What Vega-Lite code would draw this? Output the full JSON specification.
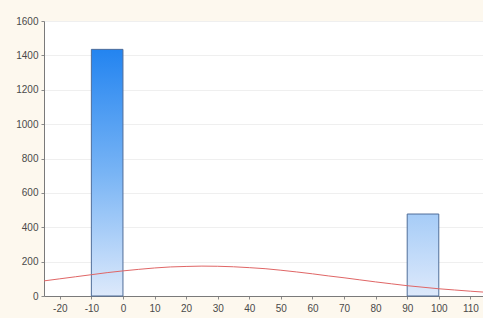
{
  "$schema": "https://vega.github.io/schema/vega-lite/v6.json",
  "autosize": "none",
  "width": 439,
  "height": 275,
  "padding": {"left": 44, "top": 21, "right": 0, "bottom": 22},
  "background": "#fdf8ee",
  "config": {
    "view": {"fill": "white", "stroke": null},
    "axis": {"labelFont": "Liberation Sans", "labelFontSize": 10, "labelColor": "#4a4a4a", "domainColor": "#7a7a7a", "tickColor": "#8a8a8a", "tickSize": 3, "title": null, "labelOverlap": false, "labelFlush": false, "format": "d", "labelExpr": "replace(datum.label, '\u2212', '-')"}
  },
  "datasets": {
    "bars": [
      {"bin_start": -10, "bin_end": 0, "count": 1435},
      {"bin_start": 90, "bin_end": 100, "count": 477}
    ],
    "curve": [
      {"x": -25, "y": 88}, {"x": -20, "y": 100}, {"x": -15, "y": 112}, {"x": -10, "y": 124},
      {"x": -5, "y": 136}, {"x": 0, "y": 146}, {"x": 5, "y": 155}, {"x": 10, "y": 163},
      {"x": 15, "y": 169}, {"x": 20, "y": 172}, {"x": 25, "y": 174}, {"x": 30, "y": 173},
      {"x": 35, "y": 170}, {"x": 40, "y": 165}, {"x": 45, "y": 159}, {"x": 50, "y": 150},
      {"x": 55, "y": 140}, {"x": 60, "y": 129}, {"x": 65, "y": 117}, {"x": 70, "y": 106},
      {"x": 75, "y": 94}, {"x": 80, "y": 82}, {"x": 85, "y": 71}, {"x": 90, "y": 60},
      {"x": 95, "y": 51}, {"x": 100, "y": 42}, {"x": 105, "y": 35}, {"x": 110, "y": 28},
      {"x": 114, "y": 23}
    ]
  },
  "encoding": {
    "x": {"field": "bin_start", "type": "quantitative",
      "scale": {"domain": [-25, 114], "nice": false, "zero": false},
      "axis": {"values": [-20, -10, 0, 10, 20, 30, 40, 50, 60, 70, 80, 90, 100, 110], "grid": false, "labelPadding": 4}},
    "y": {"field": "count", "type": "quantitative",
      "scale": {"domain": [0, 1600], "nice": false},
      "axis": {"values": [0, 200, 400, 600, 800, 1000, 1200, 1400, 1600], "grid": true, "gridColor": "#efefef", "labelPadding": 3}}
  },
  "layer": [
    {
      "data": {"name": "bars"},
      "transform": [{"filter": "datum.bin_start < 50"}],
      "mark": {"type": "rect", "stroke": "#4f6d99", "strokeWidth": 1,
        "color": {"gradient": "linear", "x1": 0, "y1": 0, "x2": 0, "y2": 1,
          "stops": [{"offset": 0, "color": "#2384f0"}, {"offset": 0.5, "color": "#78b4f5"}, {"offset": 1, "color": "#dde9fb"}]}},
      "encoding": {
        "x2": {"field": "bin_end"},
        "y2": {"datum": 0}
      }
    },
    {
      "data": {"name": "bars"},
      "transform": [{"filter": "datum.bin_start > 50"}],
      "mark": {"type": "rect", "stroke": "#4f6d99", "strokeWidth": 1,
        "color": {"gradient": "linear", "x1": 0, "y1": 0, "x2": 0, "y2": 1,
          "stops": [{"offset": 0, "color": "#a6ccf7"}, {"offset": 1, "color": "#dde9fb"}]}},
      "encoding": {
        "x2": {"field": "bin_end"},
        "y2": {"datum": 0}
      }
    },
    {
      "data": {"name": "curve"},
      "mark": {"type": "line", "color": "#e06666", "strokeWidth": 1, "clip": true},
      "encoding": {
        "x": {"field": "x", "type": "quantitative"},
        "y": {"field": "y", "type": "quantitative"}
      }
    }
  ]
}
